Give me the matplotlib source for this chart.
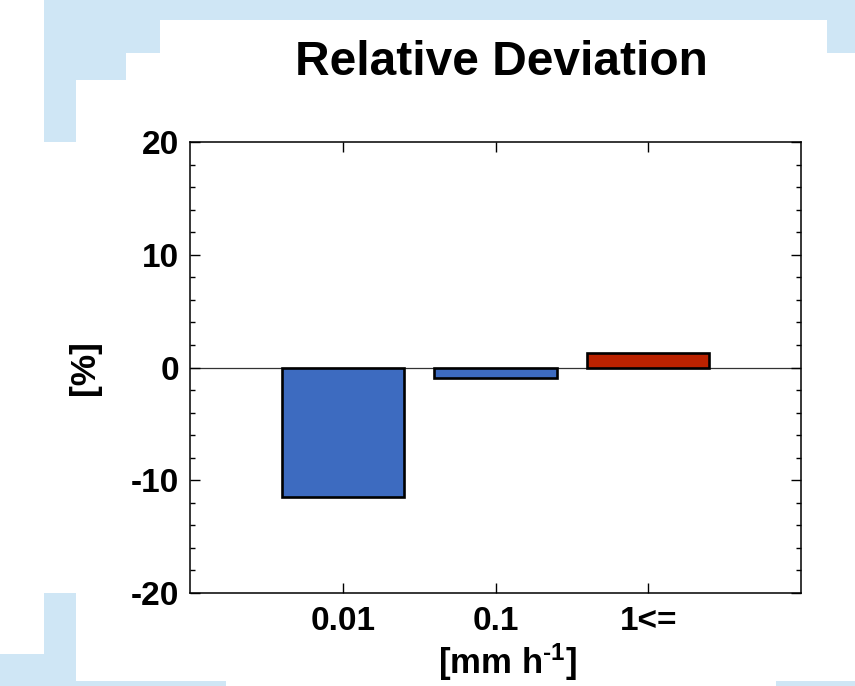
import matplotlib
matplotlib.use("Agg")
import matplotlib.pyplot as plt
from matplotlib.patches import Polygon
from matplotlib.ticker import MultipleLocator

# --- Podatki ------------------------------------------------------------------

kategorije = ["0.01", "0.1", "1<="]
odstopanja = [-11.5, -0.9, 1.3]          # relativno odstopanje [%]
barve = ["#3d6bc0", "#3d6bc0", "#bb2200"]

SIRINA, VISINA = 855, 686
MODRA = "#cfe6f5"

plt.rcParams["font.family"] = ["Liberation Sans", "DejaVu Sans"]
plt.rcParams["font.weight"] = "bold"
plt.rcParams["axes.unicode_minus"] = False
plt.rcParams["mathtext.fontset"] = "custom"
plt.rcParams["mathtext.rm"] = "Liberation Sans:bold"
plt.rcParams["mathtext.bf"] = "Liberation Sans:bold"
plt.rcParams["mathtext.default"] = "bf"

fig = plt.figure(figsize=(SIRINA / 100, VISINA / 100), dpi=100)


def px(tocke):
    """Pretvori piksle (x, y od zgoraj) v koordinate slike."""
    return [(x / SIRINA, 1 - y / VISINA) for x, y in tocke]


# okrasni svetlo modri robovi v ozadju
okraski = [
    [(44, 0), (855, 0), (855, 53), (827, 53), (827, 20), (160, 20), (160, 53),
     (126, 53), (126, 80), (76, 80), (76, 142), (44, 142)],
    [(0, 686), (0, 654), (44, 654), (44, 593), (76, 593), (76, 681),
     (226, 681), (226, 686)],
    [(776, 681), (855, 681), (855, 686), (776, 686)],
]
for tocke in okraski:
    fig.add_artist(Polygon(px(tocke), closed=True, transform=fig.transFigure,
                           facecolor=MODRA, edgecolor="none", zorder=0))

ax = fig.add_axes([190 / SIRINA, 1 - 593 / VISINA, 611 / SIRINA, 451 / VISINA])
ax.set_facecolor("white")

x = range(1, len(kategorije) + 1)
ax.axhline(0, color="#333333", lw=0.9, zorder=1)
ax.bar(x, odstopanja, width=0.8, color=barve, edgecolor="black", lw=1.9, zorder=2)

ax.set_xlim(0, 4)
ax.set_ylim(-20, 20)
ax.set_xticks(list(x))
ax.set_xticklabels(kategorije)
ax.set_yticks([-20, -10, 0, 10, 20])
ax.yaxis.set_minor_locator(MultipleLocator(2))

ax.tick_params(axis="both", which="both", direction="in", top=True, right=True,
               width=1.0)
ax.tick_params(axis="both", which="major", length=7)
ax.tick_params(axis="both", which="minor", length=3.5)
ax.tick_params(axis="y", labelsize=24, pad=8)
ax.tick_params(axis="x", labelsize=24, pad=9)
for s in ax.spines.values():
    s.set_linewidth(1.1)

ax.set_xlabel(r"[mm h$^{\text{-1}}$]", fontsize=25, fontweight="bold", va="top")
ax.xaxis.set_label_coords(0.52, -0.108)
ax.set_ylabel("[%]", fontsize=25.5, fontweight="bold", va="center")
ax.yaxis.set_label_coords(-0.172, 0.5)

fig.text(501 / SIRINA, 1 - 75 / VISINA, "Relative Deviation", ha="center",
         va="baseline", fontsize=34.5, fontweight="bold")

fig.savefig("out.png", dpi=100, facecolor="white")
